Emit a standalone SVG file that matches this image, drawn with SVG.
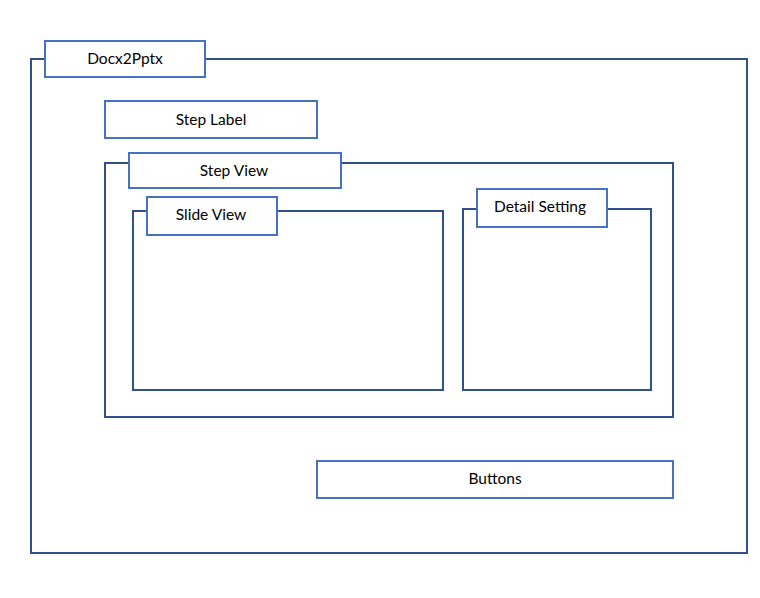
<svg xmlns="http://www.w3.org/2000/svg" width="760" height="598" viewBox="0 0 760 598">
<style>
.frame{fill:none;stroke:#2F4F8F;stroke-width:2}
.lbl{fill:#fff;stroke:#4472C4;stroke-width:2}
text{font-family:Lato,"Open Sans","Liberation Sans",sans-serif;font-size:15.5px;fill:#000;text-anchor:middle;dominant-baseline:central}
</style>
<rect width="760" height="598" fill="#fff"/>
<g id="docx2pptx">
<rect class="frame" x="31" y="59" width="716" height="494"/>
<rect class="lbl" x="45" y="41" width="160" height="36"/>
<text x="125" y="58">Docx2Pptx</text>
</g>
<g id="step-label">
<rect class="lbl" x="105" y="101" width="212" height="37"/>
<text x="211" y="118.5">Step Label</text>
</g>
<g id="step-view">
<rect class="frame" x="105" y="163" width="568" height="254"/>
<rect class="lbl" x="129" y="153" width="212" height="35"/>
<text x="234" y="169.5">Step View</text>
</g>
<g id="slide-view">
<rect class="frame" x="133" y="211" width="310" height="179"/>
<rect class="lbl" x="147" y="197" width="130" height="38"/>
<text x="211" y="214">Slide View</text>
</g>
<g id="detail-setting">
<rect class="frame" x="463" y="209" width="188" height="181"/>
<rect class="lbl" x="477" y="189" width="130" height="38"/>
<text x="540" y="206">Detail Setting</text>
</g>
<g id="buttons">
<rect class="lbl" x="317" y="461" width="356" height="37"/>
<text x="495" y="478">Buttons</text>
</g>
<g id="connectors"></g>
</svg>
